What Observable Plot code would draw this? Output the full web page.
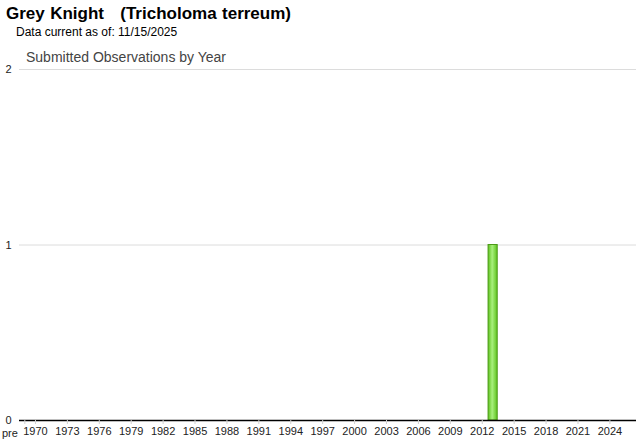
<!DOCTYPE html>
<html>
<head>
<meta charset="utf-8">
<script src="https://cdn.jsdelivr.net/npm/d3@7"></script>
<script src="https://cdn.jsdelivr.net/npm/@observablehq/plot@0.6"></script>
<style>
  body { margin: 0; background: #fff; font-family: Arial, "Liberation Sans", sans-serif; }
  #wrap { position: relative; width: 640px; height: 442px; overflow: hidden; }
  #wrap svg { position: absolute; left: 0; top: 0; }
  .t1 { position: absolute; left: 6px; top: 4px; font-size: 17px; font-weight: bold; color: #000; white-space: pre; word-spacing: 0.7px; z-index: 2; }
  .t2 { position: absolute; left: 16px; top: 25px; font-size: 12px; color: #000; z-index: 2; }
  .t3 { position: absolute; left: 26px; top: 49px; font-size: 14px; color: #444; z-index: 2; }
</style>
</head>
<body>
<div id="wrap">
  <div class="t1">Grey Knight   (Tricholoma terreum)</div>
  <div class="t2">Data current as of: 11/15/2025</div>
  <div class="t3">Submitted Observations by Year</div>
</div>
<script>
const categories = ["pre",
  "1970","1971","1972","1973","1974","1975","1976","1977","1978","1979",
  "1980","1981","1982","1983","1984","1985","1986","1987","1988","1989",
  "1990","1991","1992","1993","1994","1995","1996","1997","1998","1999",
  "2000","2001","2002","2003","2004","2005","2006","2007","2008","2009",
  "2010","2011","2012","2013","2014","2015","2016","2017","2018","2019",
  "2020","2021","2022","2023","2024","2025","2026"];
const observedYears = ["2013"];
const observedCounts = [1];
const tickLabels = ["pre","1970","1973","1976","1979","1982","1985","1988","1991","1994","1997",
  "2000","2003","2006","2009","2012","2015","2018","2021","2024"];
const yTicks = [0, 1, 2];

const data = observedYears.map((y, i) => ({year: y, count: observedCounts[i]}));

const chart = Plot.plot({
  width: 640,
  height: 442,
  marginLeft: 19,
  marginRight: 4,
  marginTop: 69,
  marginBottom: 22,
  style: {fontFamily: "Arial, 'Liberation Sans', sans-serif", fontSize: "11px", background: "transparent"},
  x: {type: "band", domain: categories, padding: 0, axis: null, label: null},
  y: {domain: [0, 2], axis: null, label: null},
  marks: [
    Plot.ruleY(yTicks.filter(d => d > 0), {stroke: "#dcdcdc", strokeWidth: 1}),
    Plot.axisY(yTicks, {tickSize: 0, tickPadding: 8, fill: "#222", fontSize: 11, label: null, tickFormat: d3.format("d")}),
    Plot.barY(data, {x: "year", y: "count", fill: "url(#barGrad)", stroke: "#4c9a18", strokeWidth: 1, insetLeft: 1, insetRight: 0.5}),
    Plot.ruleY([0], {stroke: "#000", strokeWidth: 1.5}),
    Plot.axisX(tickLabels, {tickSize: 4, stroke: "#d0d0d0", fill: "#222", tickPadding: 3, fontSize: 11, label: null,
      tickFormat: d => d === "pre" ? "" : d}),
    Plot.text(["pre"], {x: d => d, frameAnchor: "bottom", dy: 16, textAnchor: "end", dx: -7, fill: "#222", fontSize: 11})
  ]
});

const svg = d3.select(chart);
const defs = svg.insert("defs", ":first-child");
const g = defs.append("linearGradient").attr("id", "barGrad").attr("x1", "0").attr("x2", "1").attr("y1", "0").attr("y2", "0");
g.append("stop").attr("offset", "0%").attr("stop-color", "#5cc21c");
g.append("stop").attr("offset", "45%").attr("stop-color", "#a8f07c");
g.append("stop").attr("offset", "100%").attr("stop-color", "#5cc21c");

document.getElementById("wrap").appendChild(chart);
</script>
</body>
</html>
